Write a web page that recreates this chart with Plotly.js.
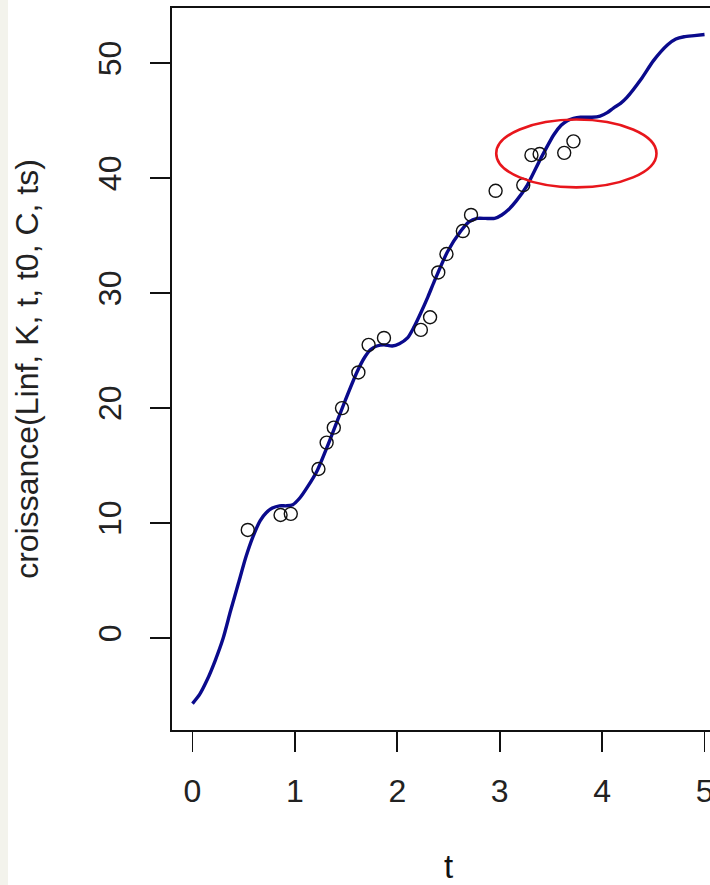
<!DOCTYPE html>
<html>
<head>
<meta charset="utf-8">
<script src="https://cdn.plot.ly/plotly-3.0.1.min.js"></script>
<style>
  html, body { margin: 0; padding: 0; overflow: hidden; width: 710px; height: 885px;
    background: linear-gradient(to right, #f3f3ec 0px, #f3f3ec 8px, #ffffff 8px); }
  #chart { width: 731px; height: 885px; }
</style>
</head>
<body>
<div id="chart"></div>
<script>
// fitted growth curve
const curveT = [0, 0.07, 0.14, 0.22, 0.3, 0.37, 0.45, 0.52, 0.59, 0.66, 0.72, 0.78, 0.85, 0.92, 0.98,
  1.05, 1.12, 1.22, 1.35, 1.48, 1.61, 1.68, 1.74, 1.8, 1.87, 1.95, 2.02, 2.1, 2.16, 2.23, 2.3,
  2.36, 2.49, 2.62, 2.7, 2.78, 2.86, 2.95, 3.02, 3.09, 3.16, 3.27, 3.4, 3.53, 3.6, 3.66, 3.72,
  3.79, 3.9, 3.98, 4.05, 4.11, 4.18, 4.24, 4.38, 4.5, 4.64, 4.72, 4.8, 4.9, 5.0];
const curveY = [-5.7, -4.9, -3.7, -2.0, 0.0, 2.3, 4.8, 7.0, 8.8, 10.2, 10.9, 11.3, 11.5, 11.5, 11.6,
  12.2, 13.1, 14.6, 17.4, 20.4, 23.2, 24.4, 25.1, 25.4, 25.5, 25.4, 25.6, 26.1, 27.0, 28.3, 29.7,
  31.0, 33.6, 35.4, 36.2, 36.5, 36.5, 36.5, 36.8, 37.3, 38.0, 39.4, 41.7, 43.8, 44.6, 45.0, 45.2,
  45.3, 45.3, 45.4, 45.7, 46.1, 46.5, 47.0, 48.6, 50.2, 51.6, 52.1, 52.3, 52.4, 52.5];

// observed data points
const obsT = [0.54, 0.86, 0.96, 1.23, 1.31, 1.38, 1.46, 1.62, 1.72, 1.87, 2.23, 2.32, 2.40, 2.48,
  2.64, 2.72, 2.96, 3.23, 3.31, 3.39, 3.63, 3.72];
const obsY = [9.4, 10.7, 10.8, 14.7, 17.0, 18.3, 20.0, 23.1, 25.5, 26.1, 26.8, 27.9, 31.8, 33.4,
  35.4, 36.8, 38.9, 39.4, 42.0, 42.1, 42.2, 43.2];

// highlighted region (red ellipse)
const ellipseT = [2.966, 4.531];
const ellipseY = [39.2, 45.1];

const xTicks = [0, 1, 2, 3, 4, 5];
const yTicks = [0, 10, 20, 30, 40, 50];
const xTitle = "t";
const yTitle = "croissance(Linf, K, t, t0, C, ts)";

const FONT = "Liberation Sans, Arial, sans-serif";

const traces = [
  {
    x: curveT, y: curveY, type: "scatter", mode: "lines",
    line: { color: "#0a0a8c", width: 3.4, shape: "spline", smoothing: 0.6 },
    hoverinfo: "skip"
  },
  {
    x: obsT, y: obsY, type: "scatter", mode: "markers",
    marker: { symbol: "circle-open", size: 13, color: "#111111", line: { width: 1.4, color: "#111111" } }
  }
];

const layout = {
  width: 731, height: 885,
  margin: { l: 172, r: 6, t: 8, b: 155 },
  paper_bgcolor: "rgba(0,0,0,0)",
  plot_bgcolor: "#ffffff",
  showlegend: false,
  font: { family: FONT, size: 32, color: "#222222" },
  xaxis: {
    range: [-0.2, 5.2],
    tickmode: "array", tickvals: xTicks, ticktext: xTicks.map(String),
    ticks: "outside", ticklen: 20, tickwidth: 1.6, tickcolor: "#111",
    ticklabelstandoff: 12,
    showline: true, linecolor: "#111", linewidth: 2, mirror: true,
    showgrid: false, zeroline: false,
    tickfont: { family: FONT, size: 32, color: "#222" },
    title: { text: xTitle, font: { family: FONT, size: 33, color: "#111" }, standoff: 60 }
  },
  yaxis: {
    range: [-8.0, 54.8],
    tickmode: "array", tickvals: yTicks, ticktext: yTicks.map(String),
    ticks: "outside", ticklen: 20, tickwidth: 1.6, tickcolor: "#111",
    tickangle: -90,
    ticklabelstandoff: 16,
    showline: true, linecolor: "#111", linewidth: 2, mirror: true,
    showgrid: false, zeroline: false,
    tickfont: { family: FONT, size: 32, color: "#222" },
    title: { text: yTitle, font: { family: FONT, size: 32, color: "#222" }, standoff: 44 }
  },
  shapes: [
    {
      type: "circle", xref: "x", yref: "y", layer: "above",
      x0: ellipseT[0], x1: ellipseT[1], y0: ellipseY[0], y1: ellipseY[1],
      line: { color: "#e8161c", width: 2.6 }
    }
  ]
};

Plotly.newPlot("chart", traces, layout, { staticPlot: true, displayModeBar: false });
</script>
</body>
</html>
